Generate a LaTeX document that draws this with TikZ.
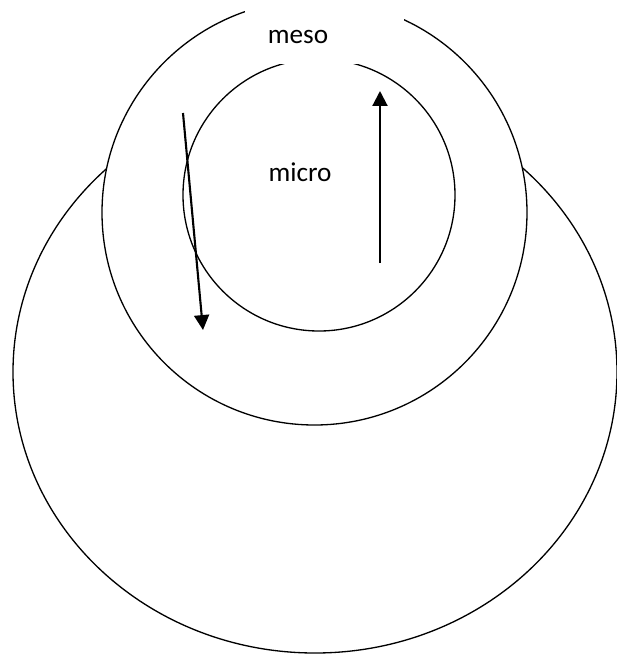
\documentclass[tikz,border=0pt]{standalone}
\usepackage{fontspec}
\setmainfont{Carlito}
\usepackage{tikz}
\usetikzlibrary{arrows.meta,positioning}

\begin{document}
\begin{tikzpicture}[
  x=0.02cm, y=-0.02cm,
  ring/.style={draw=black, line width=0.75pt},
  label/.style={font=\fontsize{15.5}{18}\selectfont, inner sep=0pt},
  arrow/.style={-{Triangle[length=8.5pt, width=8.5pt]}, line width=1.2pt}
]
\useasboundingbox (0,0) rectangle (617,654);

% outer level and the two inner rings
\draw[ring] (315,372) ellipse [x radius=302, y radius=281];
\draw[ring, fill=white] (314.5,212.5) circle [radius=212.5];
\draw[ring] (319,195) circle [radius=136];

% white box behind the top label
\fill[white] (245,-5) rectangle (404,64);
\node[label] (meso) at (298,37) {meso};
\node[label] (micro) at (300,172) {micro};

\coordinate (downstart) at (183,113);
\coordinate (downend) at (203,330);
\coordinate (upstart) at (380,263);
\coordinate (upend) at (380,91);

\draw[arrow] (downstart) -- (downend);
\draw[arrow] (upstart) -- (upend);
\end{tikzpicture}
\end{document}
